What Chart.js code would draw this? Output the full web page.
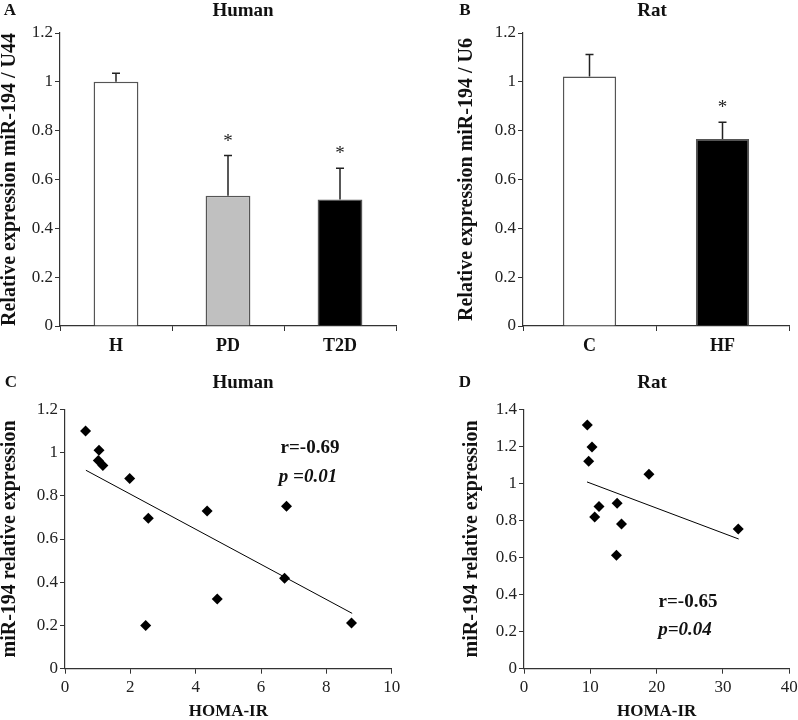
<!DOCTYPE html>
<html lang="en">
<head>
<meta charset="UTF-8">
<title>miR-194 expression</title>
<script src="https://cdn.jsdelivr.net/npm/chart.js"></script>
<style>
  body { margin: 0; background: #fff; overflow: hidden; }
  #wrap { position: relative; width: 798px; height: 720px; font-family: 'Liberation Serif', serif; color: #111; }
  #wrap canvas { position: absolute; }
  .lbl { position: absolute; transform: translate(-50%, -50%); white-space: nowrap; font-weight: bold; line-height: 1; }
</style>
</head>
<body>
<div id="wrap">
  <canvas id="cA" width="400" height="360" style="left:0;top:0"></canvas>
  <canvas id="cB" width="398" height="360" style="left:400px;top:0"></canvas>
  <canvas id="cC" width="400" height="360" style="left:0;top:360px"></canvas>
  <canvas id="cD" width="398" height="360" style="left:400px;top:360px"></canvas>

  <div class="lbl" style="left:10px;top:9px;font-size:17px">A</div>
  <div class="lbl" style="left:243px;top:9px;font-size:19px">Human</div>
  <div class="lbl" style="left:465px;top:9px;font-size:17px">B</div>
  <div class="lbl" style="left:652px;top:9px;font-size:19px">Rat</div>
  <div class="lbl" style="left:11px;top:381px;font-size:17px">C</div>
  <div class="lbl" style="left:243px;top:381px;font-size:19px">Human</div>
  <div class="lbl" style="left:465px;top:381px;font-size:17px">D</div>
  <div class="lbl" style="left:652px;top:381px;font-size:19px">Rat</div>

  <div class="lbl" style="left:310px;top:446px;font-size:19px">r=-0.69</div>
  <div class="lbl" style="left:308px;top:475px;font-size:19px;font-style:italic">p =0.01</div>
  <div class="lbl" style="left:688px;top:600px;font-size:19px">r=-0.65</div>
  <div class="lbl" style="left:685px;top:628px;font-size:19px;font-style:italic">p=0.04</div>
</div>
<script>
// panel A / B: bar charts (mean + SEM)
const humanGroups = ['H', 'PD', 'T2D'];
const humanMeans = [1.0, 0.533, 0.518];
const humanErr = [0.035, 0.165, 0.128];
const humanSig = ['', '*', '*'];
const humanColors = ['#ffffff', '#c0c0c0', '#000000'];

const ratGroups = ['C', 'HF'];
const ratMeans = [1.022, 0.766];
const ratErr = [0.09, 0.068];
const ratSig = ['', '*'];
const ratColors = ['#ffffff', '#000000'];

// panel C / D: HOMA-IR vs miR-194
const humanHoma = [0.63, 1.04, 1.02, 1.16, 1.98, 2.55, 2.47, 4.35, 4.66, 6.78, 6.72, 8.77];
const humanMir = [1.10, 1.01, 0.963, 0.94, 0.88, 0.696, 0.20, 0.73, 0.323, 0.752, 0.418, 0.211];
const humanTrendX = [0.64, 8.79];
const humanTrendY = [0.918, 0.256];

const ratHoma = [9.55, 10.25, 9.75, 18.84, 11.31, 10.66, 14.04, 14.7, 13.94, 32.3];
const ratMir = [1.315, 1.197, 1.119, 1.049, 0.876, 0.819, 0.893, 0.781, 0.612, 0.754];
const ratTrendX = [9.5, 32.37];
const ratTrendY = [1.008, 0.70];

const SERIF = "'Liberation Serif', serif";
const AXIS = '#333';

function pts(xs, ys) { return xs.map((x, i) => ({ x: x, y: ys[i] })); }
function fmt(v) { return String(Number(v.toFixed(1))); }

// error bars + asterisks drawn on top of bars
const errorBars = {
  id: 'errorBars',
  afterDatasetsDraw(chart, args, opts) {
    const ctx = chart.ctx;
    const y = chart.scales.y;
    const meta = chart.getDatasetMeta(0);
    ctx.save();
    ctx.strokeStyle = '#222';
    ctx.lineWidth = 1.5;
    meta.data.forEach((bar, i) => {
      const top = y.getPixelForValue(opts.means[i] + opts.errs[i]);
      ctx.beginPath();
      ctx.moveTo(bar.x, bar.y);
      ctx.lineTo(bar.x, top);
      ctx.moveTo(bar.x - 4, top);
      ctx.lineTo(bar.x + 4, top);
      ctx.stroke();
      if (opts.sig[i]) {
        ctx.fillStyle = '#222';
        ctx.font = '19px ' + SERIF;
        ctx.textAlign = 'center';
        ctx.textBaseline = 'middle';
        ctx.fillText(opts.sig[i], bar.x, top - 14);
      }
    });
    ctx.restore();
  }
};

function fixSize(w) {
  return function (s) {
    if (s.isHorizontal()) { s.height = w; s.paddingLeft = 0; s.paddingRight = 0; }
    else { s.width = w; s.paddingTop = 0; s.paddingBottom = 0; }
  };
}

function barChart(id, groups, means, errs, sig, colors, yTitle, pad, yWidth) {
  new Chart(document.getElementById(id), {
    type: 'bar',
    data: {
      labels: groups,
      datasets: [{
        data: means,
        backgroundColor: colors,
        borderColor: '#555',
        borderWidth: 1.5,
        borderSkipped: 'bottom',
        categoryPercentage: 1,
        barPercentage: 0.4
      }]
    },
    options: {
      responsive: false,
      animation: false,
      devicePixelRatio: 1,
      layout: { padding: pad },
      plugins: {
        legend: { display: false },
        tooltip: { enabled: false },
        errorBars: { means: means, errs: errs, sig: sig }
      },
      scales: {
        x: {
          afterFit: fixSize(34),
          border: { color: AXIS, width: 1.2 },
          grid: { drawOnChartArea: false, color: AXIS, tickLength: 5, offset: true },
          ticks: { color: '#111', padding: 5, font: { family: SERIF, size: 18, weight: 'bold' } }
        },
        y: {
          min: 0, max: 1.2,
          afterFit: fixSize(yWidth),
          border: { color: AXIS, width: 1.2 },
          grid: { drawOnChartArea: false, color: AXIS, tickLength: 5 },
          ticks: { stepSize: 0.2, color: '#222', padding: 2, font: { family: SERIF, size: 17 }, callback: fmt },
          title: { display: true, text: yTitle, color: '#111', padding: 0, font: { family: SERIF, size: 20, weight: 'bold', lineHeight: 1 } }
        }
      }
    },
    plugins: [errorBars]
  });
}

function scatterChart(id, xs, ys, tx, ty, xMax, xStep, yMax, pad, yWidth) {
  new Chart(document.getElementById(id), {
    type: 'scatter',
    data: {
      datasets: [{
        data: pts(xs, ys),
        pointStyle: 'rectRot',
        pointRadius: 5.5,
        backgroundColor: '#000',
        borderWidth: 0
      }, {
        type: 'line',
        data: pts(tx, ty),
        borderColor: '#000',
        borderWidth: 1,
        pointRadius: 0,
        fill: false
      }]
    },
    options: {
      responsive: false,
      animation: false,
      devicePixelRatio: 1,
      layout: { padding: pad },
      plugins: { legend: { display: false }, tooltip: { enabled: false } },
      scales: {
        x: {
          type: 'linear', min: 0, max: xMax,
          afterFit: fixSize(51.3),
          border: { color: AXIS, width: 1.2 },
          grid: { drawOnChartArea: false, color: AXIS, tickLength: 5 },
          ticks: { stepSize: xStep, color: '#222', padding: 4, font: { family: SERIF, size: 17 } },
          title: { display: true, text: 'HOMA-IR', color: '#111', padding: 0, font: { family: SERIF, size: 17, weight: 'bold', lineHeight: 1 } }
        },
        y: {
          min: 0, max: yMax,
          afterFit: fixSize(yWidth),
          border: { color: AXIS, width: 1.2 },
          grid: { drawOnChartArea: false, color: AXIS, tickLength: 5 },
          ticks: { stepSize: 0.2, color: '#222', padding: 2, font: { family: SERIF, size: 17 }, callback: fmt },
          title: { display: true, text: 'miR-194 relative expression', color: '#111', padding: 0, font: { family: SERIF, size: 20, weight: 'bold', lineHeight: 1 } }
        }
      }
    }
  });
}

barChart('cA', humanGroups, humanMeans, humanErr, humanSig, humanColors,
  'Relative expression miR-194 / U44', { top: 33, left: 0, right: 4, bottom: 0 }, 60);
barChart('cB', ratGroups, ratMeans, ratErr, ratSig, ratColors,
  'Relative expression miR-194 / U6', { top: 33, left: 57, right: 9, bottom: 0 }, 66);
scatterChart('cC', humanHoma, humanMir, humanTrendX, humanTrendY, 10, 2, 1.2,
  { top: 49.3, left: 0, right: 8.3, bottom: 0 }, 65);
scatterChart('cD', ratHoma, ratMir, ratTrendX, ratTrendY, 40, 10, 1.4,
  { top: 49.3, left: 62, right: 8.7, bottom: 0 }, 62);
</script>
</body>
</html>
